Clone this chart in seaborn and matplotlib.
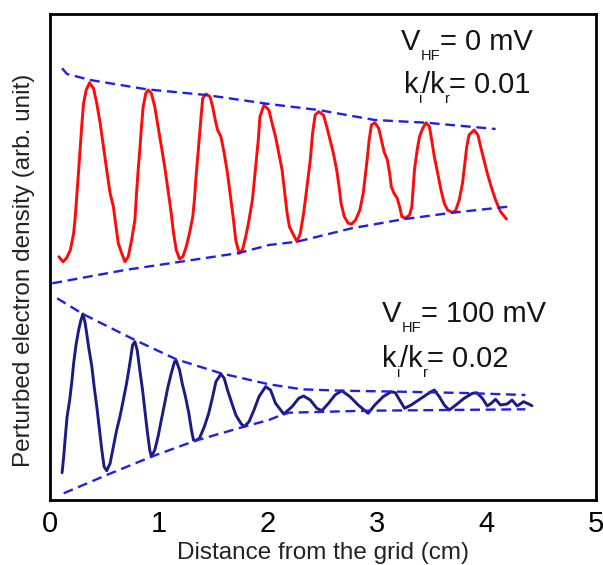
import matplotlib
matplotlib.use("Agg")
import matplotlib.pyplot as plt
from matplotlib.transforms import offset_copy
import seaborn as sns
import pandas as pd

# Measured profile at V_HF = 0 mV (distance in cm, density in arb. units)
red_x = [0.085, 0.124, 0.155, 0.191, 0.221, 0.236, 0.252, 0.267, 0.282, 0.297, 0.312, 0.336, 0.367,
         0.403, 0.433, 0.464, 0.494, 0.524, 0.555, 0.585, 0.609, 0.630, 0.661, 0.691,
         0.721, 0.752, 0.782, 0.797, 0.812, 0.827, 0.842, 0.858, 0.882, 0.903,
         0.933, 0.964, 0.994, 1.024, 1.055, 1.085, 1.115, 1.136, 1.161, 1.191,
         1.221, 1.252, 1.282, 1.312, 1.327, 1.342, 1.358, 1.373, 1.388, 1.403, 1.433,
         1.470, 1.494, 1.518, 1.539, 1.570, 1.600, 1.630, 1.661, 1.685, 1.706, 1.736,
         1.767, 1.797, 1.827, 1.858, 1.888, 1.912, 1.927, 1.964,
         2.009, 2.040, 2.070, 2.100, 2.130, 2.155, 2.176, 2.197, 2.227, 2.267,
         2.297, 2.327, 2.358, 2.388, 2.409, 2.433, 2.464,
         2.509, 2.539, 2.570, 2.600, 2.630, 2.652, 2.670, 2.700, 2.736, 2.767,
         2.803, 2.842, 2.873, 2.894, 2.912, 2.927, 2.948, 2.979,
         3.015, 3.039, 3.064, 3.094, 3.115, 3.130, 3.155, 3.185, 3.206, 3.227, 3.258, 3.297,
         3.318, 3.327, 3.342, 3.367, 3.388, 3.418, 3.448,
         3.479, 3.500, 3.524, 3.555, 3.585, 3.615, 3.645, 3.691,
         3.721, 3.752, 3.782, 3.803, 3.821, 3.842, 3.888,
         3.924, 3.948, 3.979, 4.009, 4.045, 4.085, 4.130, 4.185]
red_y = [2.433, 2.383, 2.417, 2.500, 2.667, 2.833, 3.067, 3.300, 3.533, 3.767, 3.967, 4.100, 4.173,
         4.117, 3.967, 3.767, 3.533, 3.300, 3.067, 2.933, 2.733, 2.567, 2.467, 2.383,
         2.433, 2.600, 2.800, 3.067, 3.300, 3.500, 3.733, 3.933, 4.067, 4.100,
         4.067, 3.933, 3.733, 3.533, 3.333, 3.100, 2.867, 2.667, 2.500, 2.410,
         2.433, 2.533, 2.667, 2.833, 3.000, 3.233, 3.433, 3.633, 3.833, 4.017, 4.060,
         4.033, 3.933, 3.800, 3.700, 3.633, 3.467, 3.267, 3.000, 2.800, 2.600, 2.467,
         2.500, 2.633, 2.800, 3.000, 3.333, 3.600, 3.833, 3.950,
         3.900, 3.760, 3.633, 3.467, 3.300, 3.067, 2.867, 2.733, 2.667, 2.583,
         2.667, 2.867, 3.133, 3.400, 3.667, 3.850, 3.883,
         3.850, 3.733, 3.600, 3.467, 3.300, 3.133, 2.967, 2.833, 2.767, 2.760,
         2.800, 2.900, 3.067, 3.267, 3.433, 3.600, 3.750, 3.773,
         3.717, 3.600, 3.483, 3.400, 3.267, 3.133, 3.067, 3.017, 2.933, 2.833, 2.817, 2.850,
         2.933, 3.067, 3.300, 3.500, 3.633, 3.717, 3.773,
         3.733, 3.600, 3.433, 3.267, 3.100, 2.967, 2.900, 2.873,
         2.900, 3.000, 3.167, 3.367, 3.533, 3.650, 3.700,
         3.650, 3.533, 3.400, 3.267, 3.133, 3.000, 2.883, 2.810]

# Envelopes of the V_HF = 0 mV profile
red_up_x = [0.115, 0.161, 0.373, 0.888, 1.434, 2.009, 2.464, 2.979, 3.448, 4.085]
red_up_y = [4.317, 4.260, 4.200, 4.107, 4.050, 3.960, 3.900, 3.800, 3.773, 3.710]
red_lo_x = [0.025, 0.691, 1.736, 2.009, 2.267, 2.767, 3.236, 3.691, 4.197]
red_lo_y = [2.167, 2.300, 2.470, 2.550, 2.583, 2.717, 2.807, 2.873, 2.933]

# Measured profile at V_HF = 100 mV
blue_x = [0.115, 0.130, 0.145, 0.161, 0.185, 0.206, 0.221, 0.245, 0.267, 0.288, 0.306,
          0.327, 0.358, 0.388, 0.409, 0.433, 0.458, 0.479, 0.500, 0.524,
          0.555, 0.585, 0.615, 0.645, 0.676, 0.706, 0.736, 0.761, 0.782,
          0.803, 0.827, 0.852, 0.873, 0.894, 0.918, 0.933,
          0.964, 0.994, 1.024, 1.055, 1.085, 1.115, 1.145, 1.161,
          1.191, 1.215, 1.245, 1.276, 1.300, 1.318, 1.336,
          1.373, 1.418, 1.458, 1.494, 1.524, 1.570,
          1.600, 1.630, 1.670, 1.706, 1.752, 1.782,
          1.827, 1.873, 1.918, 1.979, 2.024, 2.070, 2.145,
          2.221, 2.282, 2.327, 2.388, 2.448, 2.494,
          2.555, 2.615, 2.676, 2.752, 2.827, 2.918,
          2.979, 3.055, 3.130, 3.167, 3.206, 3.252,
          3.312, 3.403, 3.494, 3.524, 3.570, 3.615, 3.661,
          3.721, 3.797, 3.873, 3.912, 3.964, 4.009,
          4.045, 4.085, 4.130, 4.191, 4.236, 4.282, 4.342, 4.388, 4.418]
blue_y = [0.273, 0.433, 0.633, 0.833, 1.000, 1.200, 1.367, 1.567, 1.700, 1.800, 1.860,
          1.767, 1.533, 1.333, 1.133, 0.933, 0.700, 0.500, 0.333, 0.293,
          0.367, 0.533, 0.700, 0.833, 1.000, 1.167, 1.367, 1.550, 1.583,
          1.500, 1.300, 1.100, 0.900, 0.700, 0.500, 0.433,
          0.500, 0.633, 0.800, 0.967, 1.133, 1.267, 1.383, 1.393,
          1.300, 1.167, 1.033, 0.867, 0.700, 0.600, 0.593,
          0.617, 0.733, 0.867, 1.033, 1.183, 1.260,
          1.217, 1.100, 0.967, 0.850, 0.767, 0.733,
          0.783, 0.900, 1.033, 1.133, 1.100, 0.967, 0.860,
          0.933, 1.017, 1.040, 1.000, 0.917, 0.893,
          0.967, 1.050, 1.093, 1.033, 0.950, 0.867,
          0.950, 1.033, 1.083, 1.073, 1.000, 0.917,
          0.950, 1.017, 1.083, 1.100, 1.033, 0.950, 0.900,
          0.950, 1.017, 1.067, 1.073, 1.017, 0.940,
          0.967, 1.007, 0.950, 0.960, 1.000, 0.940, 0.983, 0.960, 0.943]

# Envelopes of the V_HF = 100 mV profile
blue_up_x = [0.070, 0.306, 0.782, 1.161, 1.570, 2.009, 2.312, 2.676, 3.221, 3.800, 4.358]
blue_up_y = [2.017, 1.860, 1.600, 1.407, 1.267, 1.157, 1.107, 1.093, 1.083, 1.070, 1.050]
blue_lo_x = [0.130, 0.524, 0.933, 1.336, 1.782, 2.009, 2.100, 2.191, 2.918, 4.358]
blue_lo_y = [0.067, 0.250, 0.433, 0.593, 0.733, 0.800, 0.840, 0.873, 0.893, 0.907]

x_ticks = [0, 1, 2, 3, 4, 5]

# Annotation pieces: (text, is_subscript)
label_top_v = [("V", False), ("HF", True), ("= 0 mV", False)]
label_top_k = [("k", False), ("i", True), ("/k", False), ("r", True), ("= 0.01", False)]
label_bot_v = [("V", False), ("HF", True), ("= 100 mV", False)]
label_bot_k = [("k", False), ("i", True), ("/k", False), ("r", True), ("= 0.02", False)]

sns.set_style("white")
plt.rcParams["font.family"] = ["Liberation Sans", "DejaVu Sans"]

fig = plt.figure(figsize=(6.03, 5.65), dpi=100)
ax = fig.add_axes([49.5 / 603, 65 / 565, 546 / 603, 486 / 565])

dash = (0, (4.2, 2.4))
env_color = "#1f1fe6"

red = pd.DataFrame({"x": red_x, "y": red_y})
blue = pd.DataFrame({"x": blue_x, "y": blue_y})
sns.lineplot(data=red, x="x", y="y", sort=False, estimator=None, color="#ff0a0a", lw=2.1, ax=ax)
sns.lineplot(data=blue, x="x", y="y", sort=False, estimator=None, color="#1b1b86", lw=2.1, ax=ax)

for ex, ey in [(red_up_x, red_up_y), (red_lo_x, red_lo_y),
               (blue_up_x, blue_up_y), (blue_lo_x, blue_lo_y)]:
    env = pd.DataFrame({"x": ex, "y": ey})
    sns.lineplot(data=env, x="x", y="y", sort=False, estimator=None,
                 color=env_color, lw=1.7, linestyle=dash, ax=ax)

ax.set_xlim(0, 5)
ax.set_ylim(0, 4.86)
ax.set_xticks(x_ticks)
ax.set_xticklabels([str(t) for t in x_ticks])
ax.set_yticks([])
ax.tick_params(axis="x", direction="in", length=6, width=1.8, labelsize=21, pad=7, colors="black")
for s in ax.spines.values():
    s.set_linewidth(2.0)
    s.set_color("black")

ax.set_xlabel("Distance from the grid (cm)", fontsize=17.5, color="#222222", va="center")
ax.xaxis.set_label_coords(0.501, -0.109)
ax.set_ylabel("Perturbed electron density (arb. unit)", fontsize=17.5, color="#222222", va="center")
ax.yaxis.set_label_coords(-0.0466, 0.473)

renderer = fig.canvas.get_renderer()


def rich_text(x, y, parts, size=21):
    """Write text pieces left to right, dropping subscripts below the baseline."""
    dx = 0.0
    for s, sub in parts:
        fs = size * 0.5 if sub else size
        dy = -7.0 if sub else 0.0
        tr = offset_copy(ax.transData, fig=fig, x=dx, y=dy, units="points")
        t = ax.text(x, y, s, fontsize=fs, ha="left", va="baseline", color="#141414", transform=tr)
        dx += t.get_window_extent(renderer).width * 72.0 / fig.dpi


rich_text(3.219, 4.50, label_top_v)
rich_text(3.247, 4.07, label_top_k)
rich_text(3.046, 1.78, label_bot_v)
rich_text(3.046, 1.33, label_bot_k)

fig.savefig("out.png", dpi=100)
